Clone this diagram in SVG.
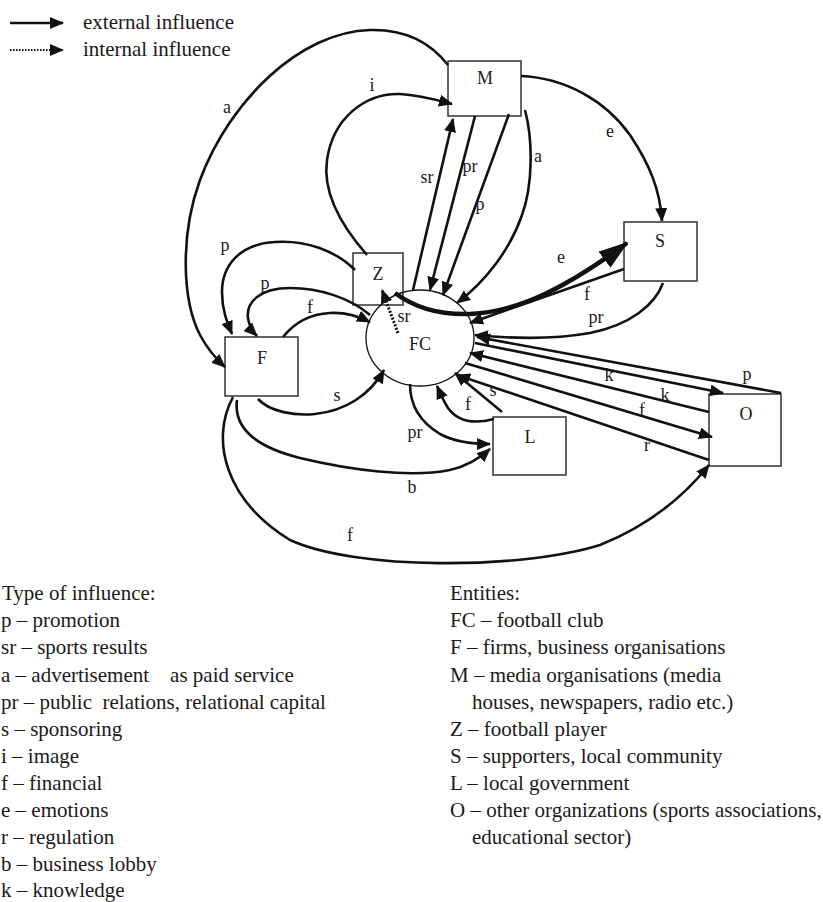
<svg xmlns="http://www.w3.org/2000/svg" width="823" height="902" viewBox="0 0 823 902">
<defs>
<style>
.box{fill:#fff;stroke:#333;stroke-width:1.5}
.fc{fill:none;stroke:#111;stroke-width:1.3}
.c{fill:none;stroke:#111;stroke-width:2.6;marker-end:url(#ah)}
.thick{fill:none;stroke:#111;stroke-width:4.5;marker-end:url(#big)}
.dot{fill:none;stroke:#111;stroke-width:3;stroke-dasharray:2 1.6;marker-end:url(#ah)}
.ldot{fill:none;stroke:#111;stroke-width:2;stroke-dasharray:1.5 1.5;marker-end:url(#ah)}
text{font-family:"Liberation Serif","Times New Roman",serif;fill:#1a1a1a}
.n{font-size:18px;text-anchor:middle}
.l{font-size:18px;text-anchor:middle}
.lg{font-size:21px}
</style>
<marker id="ah" markerUnits="userSpaceOnUse" markerWidth="14" markerHeight="12" refX="13" refY="6" orient="auto"><path d="M0,0 L14,6 L0,12 z" fill="#111"/></marker>
<marker id="big" markerUnits="userSpaceOnUse" markerWidth="30" markerHeight="20" refX="28" refY="10" orient="auto"><path d="M0,0 L30,10 L0,20 z" fill="#111"/></marker>
</defs>
<rect width="823" height="902" fill="#fff"/>

<g id="legend-arrows">
<path class="c" d="M10,23 L63,23"/>
<path class="ldot" d="M10,50 L63,50"/>
<text class="lg" x="83" y="29">external influence</text>
<text class="lg" x="83" y="56">internal influence</text>
</g>

<g id="node-M"><rect class="box" x="448" y="61" width="73" height="55"/><text class="n" x="485" y="84">M</text></g>
<g id="node-S"><rect class="box" x="624" y="222" width="73" height="59"/><text class="n" x="660" y="247">S</text></g>
<g id="node-Z"><rect class="box" x="353" y="253" width="50" height="52"/><text class="n" x="378" y="280">Z</text></g>
<g id="node-F"><rect class="box" x="225" y="337" width="73" height="59"/><text class="n" x="262" y="364">F</text></g>
<g id="node-L"><rect class="box" x="493" y="417" width="73" height="58"/><text class="n" x="530" y="443">L</text></g>
<g id="node-O"><rect class="box" x="709" y="394" width="72" height="72"/><text class="n" x="746" y="420">O</text></g>
<g id="node-FC"><ellipse class="fc" cx="420" cy="338" rx="54" ry="48"/><text class="n" x="420" y="350">FC</text></g>

<g id="connectors">
<path class="c" d="M448,65 C430,42 405,29 370,30 C300,32 230,100 200,180 C180,235 182,300 200,335 C207,348 215,358 225,367"/>
<path class="c" d="M367,255 C345,230 322,195 327,160 C333,118 365,93 400,94 C420,95 437,100 452,104"/>
<path class="c" d="M413,290 L453,119"/>
<path class="c" d="M475,116 L430,290"/>
<path class="c" d="M509,114 L443,295"/>
<path class="c" d="M525,110 C533,140 533,185 522,215 C510,250 485,282 457,303"/>
<path class="c" d="M521,76 C565,78 605,100 630,135 C650,165 660,190 662,221"/>
<path class="thick" d="M395,293 C415,308 440,315 470,314 C520,312 570,285 627,243"/>
<path class="c" d="M624,269 L470,323"/>
<path class="c" d="M663,283 C655,305 630,325 590,333 C550,340 505,338 475,335"/>
<path class="c" d="M781,393 L477,337"/>
<path class="c" d="M475,343 L723,393"/>
<path class="c" d="M709,412 L470,353"/>
<path class="c" d="M465,363 L712,437"/>
<path class="c" d="M709,460 L457,375"/>
<path class="c" d="M502,412 L455,373"/>
<path class="c" d="M494,419 C475,424 458,422 448,408 C443,400 440,393 437,386"/>
<path class="c" d="M410,384 C410,405 420,422 440,434 C455,442 472,444 490,444"/>
<path class="c" d="M237,400 C233,430 260,448 300,458 C350,470 410,478 450,470 C468,466 480,458 490,449"/>
<path class="c" d="M233,397 C210,440 225,500 290,540 C355,570 520,570 600,545 C650,525 685,495 709,465"/>
<path class="c" d="M258,399 C270,412 295,416 315,414 C345,411 370,395 384,370"/>
<path class="c" d="M283,337 C295,322 310,314 330,313 C345,312 358,316 370,322"/>
<path class="c" d="M355,270 C335,250 305,240 275,242 C240,244 222,265 222,292 C222,310 227,322 232,334"/>
<path class="c" d="M370,315 C350,298 320,288 290,288 C260,288 246,302 248,318 C249,326 252,331 257,336"/>
<path class="dot" d="M398,333 L382,290"/>
</g>

<g id="edge-labels">
<text class="l" x="227" y="113">a</text>
<text class="l" x="372" y="91">i</text>
<text class="l" x="427" y="183">sr</text>
<text class="l" x="470" y="172">pr</text>
<text class="l" x="480" y="210">p</text>
<text class="l" x="538" y="162">a</text>
<text class="l" x="610" y="137">e</text>
<text class="l" x="561" y="263">e</text>
<text class="l" x="587" y="300">f</text>
<text class="l" x="596" y="323">pr</text>
<text class="l" x="609" y="381">k</text>
<text class="l" x="665" y="401">k</text>
<text class="l" x="747" y="380">p</text>
<text class="l" x="642" y="416">f</text>
<text class="l" x="647" y="451">r</text>
<text class="l" x="493" y="396">s</text>
<text class="l" x="468" y="410">f</text>
<text class="l" x="415" y="438">pr</text>
<text class="l" x="412" y="493">b</text>
<text class="l" x="350" y="541">f</text>
<text class="l" x="337" y="401">s</text>
<text class="l" x="310" y="313">f</text>
<text class="l" x="225" y="251">p</text>
<text class="l" x="265" y="289">p</text>
<text class="l" x="404" y="322">sr</text>
</g>

<g id="legend-types">
<text class="lg" x="2" y="600">Type of influence:</text>
<text class="lg" x="1" y="627">p – promotion</text>
<text class="lg" x="1" y="654">sr – sports results</text>
<text class="lg" x="1" y="682" xml:space="preserve">a – advertisement    as paid service</text>
<text class="lg" x="1" y="709" xml:space="preserve">pr – public  relations, relational capital</text>
<text class="lg" x="1" y="736">s – sponsoring</text>
<text class="lg" x="1" y="763">i – image</text>
<text class="lg" x="1" y="790">f – financial</text>
<text class="lg" x="1" y="817">e – emotions</text>
<text class="lg" x="1" y="844">r – regulation</text>
<text class="lg" x="1" y="871">b – business lobby</text>
<text class="lg" x="1" y="897">k – knowledge</text>
</g>

<g id="legend-entities">
<text class="lg" x="450" y="600">Entities:</text>
<text class="lg" x="450" y="627">FC – football club</text>
<text class="lg" x="450" y="654">F – firms, business organisations</text>
<text class="lg" x="450" y="682">M – media organisations (media</text>
<text class="lg" x="472" y="709">houses, newspapers, radio etc.)</text>
<text class="lg" x="450" y="736">Z – football player</text>
<text class="lg" x="450" y="763">S – supporters, local community</text>
<text class="lg" x="450" y="790">L – local government</text>
<text class="lg" x="450" y="817">O – other organizations (sports associations,</text>
<text class="lg" x="472" y="844">educational sector)</text>
</g>
</svg>
